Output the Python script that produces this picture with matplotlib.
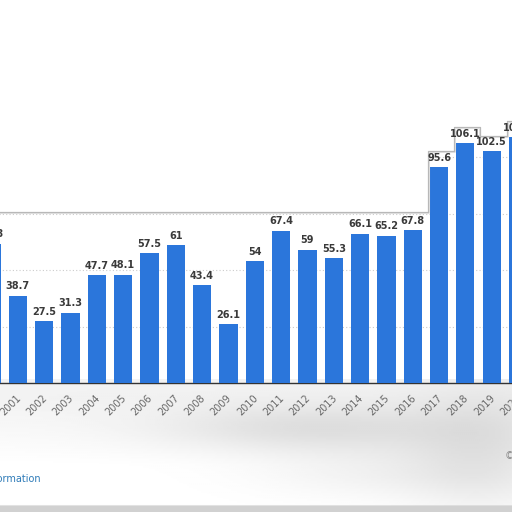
import numpy as np
import matplotlib.pyplot as plt
from matplotlib.transforms import ScaledTranslation

years = [str(y) for y in range(2000, 2021)]
values = [61.8, 38.7, 27.5, 31.3, 47.7, 48.1, 57.5, 61, 43.4, 26.1,
          54, 67.4, 59, 55.3, 66.1, 65.2, 67.8, 95.6, 106.1, 102.5, 108.9]
labels = ['61.8', '38.7', '27.5', '31.3', '47.7', '48.1', '57.5', '61', '43.4', '26.1',
          '54', '67.4', '59', '55.3', '66.1', '65.2', '67.8', '95.6', '106.1', '102.5', '108.9']

fig = plt.figure(figsize=(5.12, 5.12), dpi=100)
fig.patch.set_facecolor('white')

# blurred grey area under the chart
bg = fig.add_axes([0, 0, 1, 0.26], zorder=0)
gx, gy = np.meshgrid(np.linspace(0, 1, 256), np.linspace(0, 1, 80))
shade = 0.05 * np.clip((gy - 0.35) / 0.5, 0, 1)
shade += 0.10 * np.exp(-((gx - 0.62) / 0.3) ** 2 - ((gy - 0.62) / 0.18) ** 2)
shade += 0.09 * np.exp(-((gx - 0.95) / 0.15) ** 2 - ((gy - 0.45) / 0.45) ** 2)
shade += 0.05 * np.exp(-((gx - 0.75) / 0.25) ** 2 - ((gy - 0.3) / 0.2) ** 2)
shade[:4, :] = 0.18
bg.imshow(1 - shade, cmap='gray', vmin=0, vmax=1, aspect='auto', origin='lower',
          extent=(0, 1, 0, 1), interpolation='bilinear')
bg.axis('off')

# plot area is wider than the picture (the screenshot is cropped)
step = 26.33
left_px = 17.8 - 1.5 * step
ax = fig.add_axes([left_px / 512, 0.2512, 21 * step / 512, 0.7488], zorder=2)
ax.patch.set_alpha(0)
x = np.arange(len(years))
ax.bar(x, values, width=0.69, color='#2b76db', zorder=3)
for xi, v, lab in zip(x, values, labels):
    ax.annotate(lab, (xi, v), xytext=(0, 3.2), textcoords='offset points',
                ha='center', va='bottom', fontsize=7, fontweight='bold',
                color='#3a3a3a', zorder=8)

ax.set_yticks([25, 50, 75, 100, 125, 150])
ax.yaxis.grid(True, linestyle=(0, (1, 2)), color='#cccccc', linewidth=0.8, zorder=1)
ax.tick_params(axis='y', left=False, labelleft=False)
ax.set_xticks(x)
ax.set_xticklabels(years, rotation=45, ha='right', rotation_mode='anchor',
                   fontsize=7, color='#666666')
ax.tick_params(axis='x', length=0, pad=7)
for t in ax.get_xticklabels():
    t.set_transform(t.get_transform() + ScaledTranslation(-2 / 100, 0, fig.dpi_scale_trans))
ax.set_xlim(-0.5, 20.5)
ax.set_ylim(0, 0.7488 * 512 / 2.2625)
for s in ['top', 'left', 'right']:
    ax.spines[s].set_visible(False)
ax.spines['bottom'].set_color('#333333')
ax.spines['bottom'].set_linewidth(1)

# white panel covering the top, stepped around the highest labels
level = max(values[:17]) + 8
sx = [-0.5, 16.57]
sy = [level, level]
for i in range(17, len(values)):
    sx += [i - 0.43, i + 0.57]
    sy += [values[i] + 7, values[i] + 7]
sx = np.array(sx)
sy = np.array(sy)
ax.fill_between(sx, sy, 200, color='white', zorder=6, clip_on=False)
ax.plot(sx, sy, color='#dddddd', linewidth=2.2, zorder=5)
ax.plot(sx, sy, color='#b8b8b8', linewidth=0.9, zorder=6)

fig.text(41 / 512, 1 - 479 / 512, 'Additional Information', ha='right', va='center',
         fontsize=7, color='#2e7bb8')
fig.text(505 / 512, 1 - 456 / 512, '© Statista 2021', ha='left', va='center',
         fontsize=7, color='#888888')

fig.savefig('out.png', dpi=100)
